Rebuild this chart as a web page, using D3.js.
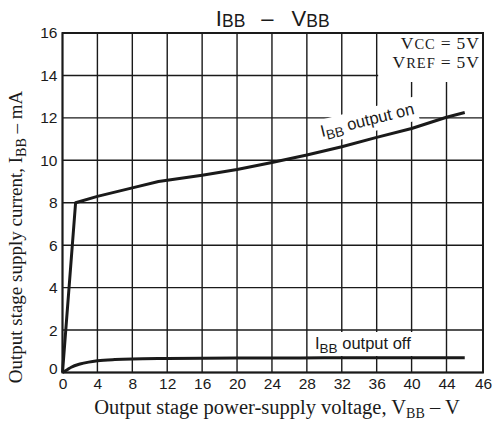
<!DOCTYPE html>
<html>
<head>
<meta charset="utf-8">
<script src="https://cdn.jsdelivr.net/npm/d3@7"></script>
<style>
  html, body { margin: 0; padding: 0; background: #fff; }
  svg { display: block; }
</style>
</head>
<body>
<svg id="chart" width="495" height="426"></svg>
<script>
// ---- data ----
const xTicks = [0, 4, 8, 12, 16, 20, 24, 28, 32, 36, 40, 44, 46];
const yTicks = [0, 2, 4, 6, 8, 10, 12, 14, 16];

const onVoltage = [0, 1.5, 4, 8, 11, 16, 20, 24, 28, 32, 36, 40, 44, 45];
const onCurrent = [0, 8.0, 8.3, 8.7, 9.0, 9.3, 9.57, 9.9, 10.25, 10.64, 11.08, 11.5, 12.03, 12.25];

const offVoltage = [0, 0.5, 1, 2, 3, 4, 6, 8, 12, 20, 30, 45];
const offCurrent = [0, 0.12, 0.25, 0.4, 0.49, 0.55, 0.61, 0.64, 0.66, 0.68, 0.69, 0.7];

const titleParts = [["I", "BB"], ["V", "BB"]];
const conditions = [["V", "CC", "5V"], ["V", "REF", "5V"]];

// ---- layout ----
const svg = d3.select("#chart");
const L = 62.5, R = 483, T = 33, B = 372.5;

const x = d3.scaleLinear().domain([0, 44, 46]).range([L, 446.5, R]);
const y = d3.scaleLinear().domain([0, 16]).range([B, T]);

const ink = "#1a1a1a";
const sans = "'Liberation Sans', Arial, Helvetica, sans-serif";
const serif = "'Liberation Serif', 'Times New Roman', serif";

// grid
const grid = svg.append("g");
grid.selectAll("line.v").data(xTicks).join("line")
  .attr("x1", d => x(d)).attr("x2", d => x(d))
  .attr("y1", T).attr("y2", B)
  .attr("stroke", ink).attr("stroke-width", 1.4);
grid.selectAll("line.h").data(yTicks).join("line")
  .attr("x1", L).attr("x2", R)
  .attr("y1", d => y(d)).attr("y2", d => y(d))
  .attr("stroke", ink).attr("stroke-width", 1.4);

// frame
svg.append("rect").attr("x", L).attr("y", T).attr("width", R - L).attr("height", B - T)
  .attr("fill", "none").attr("stroke", ink).attr("stroke-width", 2);

// axes (labels only)
const xAxis = svg.append("g").attr("transform", `translate(0,${B})`)
  .call(d3.axisBottom(x).tickValues(xTicks).tickSize(0).tickPadding(5).tickFormat(d3.format("d")));
const yAxis = svg.append("g").attr("transform", `translate(${L},0)`)
  .call(d3.axisLeft(y).tickValues(yTicks).tickSize(0).tickPadding(5).tickFormat(d3.format("d")));
[xAxis, yAxis].forEach(a => {
  a.select(".domain").remove();
  a.selectAll("text").attr("font-family", sans).attr("font-size", 15.5).attr("fill", ink);
});
yAxis.selectAll(".tick").filter(d => d === 0).select("text").attr("dy", "0.05em");

// white box behind conditions
const condG = svg.append("g");
condG.append("rect").attr("x", x(36) + 1.5).attr("y", T + 1).attr("width", R - x(36) - 2.5).attr("height", 48)
  .attr("fill", "#fff");
conditions.forEach((c, i) => {
  const t = condG.append("text").attr("x", R - 3).attr("y", T + 16 + i * 19)
    .attr("text-anchor", "end").attr("font-family", serif).attr("font-size", 17.5)
    .attr("letter-spacing", 1).attr("fill", ink);
  t.append("tspan").text(c[0]);
  t.append("tspan").attr("font-size", 14.5).text(c[1]);
  t.append("tspan").attr("dx", 5).text("=");
  t.append("tspan").attr("dx", 5).text(c[2]);
});

// curves
const line = d3.line().x(d => x(d[0])).y(d => y(d[1]));
const onData = onVoltage.map((v, i) => [v, onCurrent[i]]);
const offData = offVoltage.map((v, i) => [v, offCurrent[i]]);

// curve labels with white backing
function labelWithBacking(parent, px, py, angle, main, sub, rest, size) {
  const g = parent.append("g").attr("transform", `translate(${px},${py}) rotate(${angle})`);
  const bg = g.append("rect").attr("fill", "#fff");
  const t = g.append("text").attr("font-family", sans).attr("font-size", size).attr("fill", ink);
  t.append("tspan").text(main);
  t.append("tspan").attr("font-size", size * 0.82).attr("dy", 4).text(sub);
  t.append("tspan").attr("dy", -4).text(rest);
  const bb = t.node().getBBox();
  bg.attr("x", bb.x - 3).attr("y", bb.y - 2).attr("width", bb.width + 6).attr("height", bb.height + 2);
  return g;
}
labelWithBacking(svg, 322, 137, -14, "I", "BB", " output on", 16.5);
labelWithBacking(svg, 315, 349, 0, "I", "BB", " output off", 16.5);

svg.append("path").datum(onData).attr("d", line)
  .attr("fill", "none").attr("stroke", ink).attr("stroke-width", 3).attr("stroke-linejoin", "round");
svg.append("path").datum(offData).attr("d", line.curve(d3.curveMonotoneX))
  .attr("fill", "none").attr("stroke", ink).attr("stroke-width", 3).attr("stroke-linejoin", "round");

// title
const title = svg.append("text").attr("x", (L + R) / 2).attr("y", 26).attr("text-anchor", "middle")
  .attr("font-family", sans).attr("font-size", 22).attr("fill", ink);
title.append("tspan").text(titleParts[0][0]);
title.append("tspan").attr("font-size", 17.5).attr("dy", 1).text(titleParts[0][1]);
title.append("tspan").attr("dy", -1).attr("dx", 16).text("\u2013");
title.append("tspan").attr("dx", 18).text(titleParts[1][0]);
title.append("tspan").attr("font-size", 17.5).attr("dy", 1).text(titleParts[1][1]);

// axis titles
const xt = svg.append("text").attr("x", 277).attr("y", 414).attr("text-anchor", "middle")
  .attr("font-family", serif).attr("font-size", 20.5).attr("fill", ink);
xt.append("tspan").text("Output stage power-supply voltage, V");
xt.append("tspan").attr("font-size", 14).attr("dy", 4).text("BB");
xt.append("tspan").attr("dy", -4).text(" \u2013 V");

const yt = svg.append("text").attr("transform", "translate(22,237) rotate(-90)").attr("text-anchor", "middle")
  .attr("font-family", serif).attr("font-size", 19).attr("fill", ink);
yt.append("tspan").text("Output stage supply current, I");
yt.append("tspan").attr("font-size", 14).attr("dy", 4).text("BB");
yt.append("tspan").attr("dy", -4).text(" \u2013 mA");
</script>
</body>
</html>
